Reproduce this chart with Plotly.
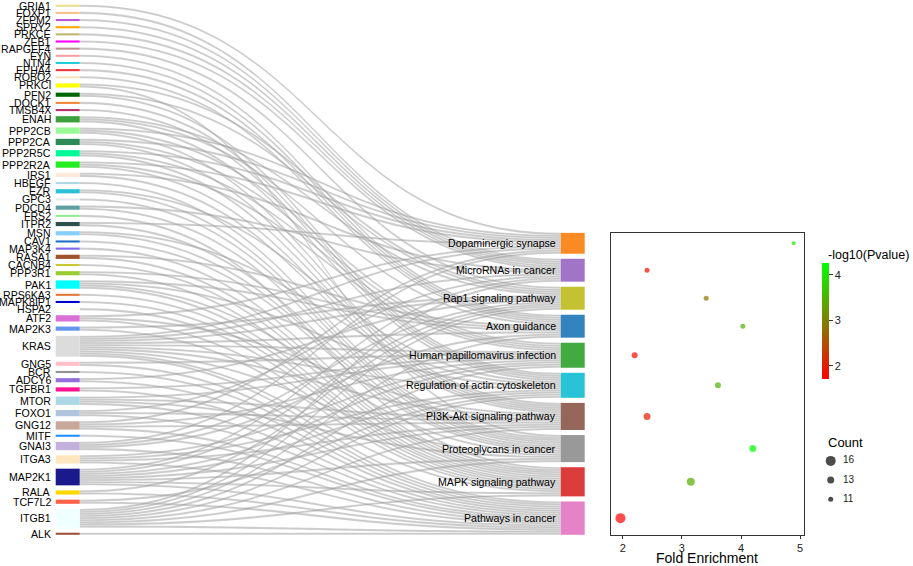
import plotly.graph_objects as go

FIG_W, FIG_H = 913, 566
FONT = "Liberation Sans, Arial, Helvetica, sans-serif"

# ---------------- data ----------------
pathways = ["Dopaminergic synapse", "MicroRNAs in cancer", "Rap1 signaling pathway",
            "Axon guidance", "Human papillomavirus infection",
            "Regulation of actin cytoskeleton", "PI3K-Akt signaling pathway",
            "Proteoglycans in cancer", "MAPK signaling pathway", "Pathways in cancer"]
pathway_codes = ["D", "Mi", "R", "A", "H", "G", "P", "Pr", "M", "C"]
fold_enrichment = [4.89, 2.41, 3.41, 4.03, 2.20, 3.61, 2.41, 4.20, 3.15, 1.96]
neg_log10_p = [4.02, 1.82, 2.90, 3.45, 1.76, 3.48, 1.97, 4.26, 3.42, 1.71]
pathway_colors = ["#F98A24", "#A274C8", "#C4C132", "#3283BE", "#41AA41",
                  "#28C3D7", "#96665A", "#999999", "#DC3C3C", "#E683C8"]

genes = ["GRIA1", "FOXP1", "ZFPM2", "SPRY2", "PRKCE", "ZEB1", "RAPGEF4", "FYN", "NTN4",
         "EPHA4", "ROBO2", "PRKCI", "PFN2", "DOCK1", "TMSB4X", "ENAH", "PPP2CB", "PPP2CA",
         "PPP2R5C", "PPP2R2A", "IRS1", "HBEGF", "EZR", "GPC3", "PDCD4", "FRS2", "ITPR2",
         "MSN", "CAV1", "MAP3K4", "RASA1", "CACNB4", "PPP3R1", "PAK1", "RPS6KA3",
         "MAPK8IP1", "HSPA2", "ATF2", "MAP2K3", "KRAS", "GNG5", "BCR", "ADCY6", "TGFBR1",
         "MTOR", "FOXO1", "GNG12", "MITF", "GNAI3", "ITGA3", "MAP2K1", "RALA", "TCF7L2",
         "ITGB1", "ALK"]
gene_colors = ["#E6E08C", "#F8C08A", "#BA55D3", "#FFA500", "#BDB76B", "#FF00FF", "#BC8F8F",
               "#F4A0A0", "#20CDD8", "#E8383A", "#F8E2BA", "#FFFF00", "#006400", "#F4873A",
               "#B8336A", "#3CA03C", "#98FB98", "#2E8B57", "#00FA9A", "#22EE22", "#FDEBD9",
               "#ADD8E6", "#2BC0D8", "#E6E6F0", "#5F9EA0", "#90EE90", "#2F4F4F", "#87CEFA",
               "#2070C8", "#7B68EE", "#A0522D", "#C8C832", "#9ACD32", "#00FFFF", "#E07838",
               "#0000CD", "#FFFFF0", "#DA70D6", "#6495ED", "#DCDCDC", "#FFC0CB", "#909090",
               "#9370DB", "#FF1493", "#ADD8E6", "#B0C4DE", "#C9A89C", "#1E90FF", "#C4B0DC",
               "#FFE6BE", "#1A1A8C", "#FFD700", "#FF6347", "#F0FFFF", "#A0523C"]
gene_pathways = [
    ["D"], ["Mi"], ["Mi"], ["Mi"], ["Mi"], ["Mi"], ["R"], ["A"], ["A"], ["A"], ["A"],
    ["R", "Pr"], ["R", "G"], ["G"], ["G"], ["R", "A", "G"],
    ["D", "H", "P"], ["D", "H", "P"], ["D", "H", "P"], ["D", "H", "P"],
    ["Mi", "P"], ["Pr"], ["G", "Pr"], ["Pr"], ["Mi", "Pr"], ["M"], ["D", "Pr"],
    ["G", "Pr"], ["Pr"], ["M"], ["A", "M"], ["M"], ["A", "M"], ["A", "G", "Pr", "M"],
    ["M"], ["M"], ["M"], ["D", "P", "M"], ["R", "M"],
    ["D", "Mi", "R", "A", "H", "G", "P", "Pr", "M", "C"],
    ["H", "C"], ["C"], ["R", "C"], ["H", "C"], ["H", "P", "Pr", "C"], ["Mi", "P", "C"],
    ["D", "H", "P", "C"], ["C"], ["D", "R", "A", "C"], ["H", "G", "P", "C"],
    ["Mi", "R", "H", "G", "P", "Pr", "M", "C"], ["R", "C"], ["G", "C"],
    ["Mi", "R", "A", "H", "G", "P", "Pr", "M", "C"], ["C"]]
count_breaks = [16, 13, 11]

# ---------------- layout geometry ----------------
dom_x = [55.7 / FIG_W, 584.7 / FIG_W]
dom_y = [1 - 534.8 / FIG_H, 1 - 4.7 / FIG_H]
PAD = 5.07
THICK = 24
W = (dom_x[1] - dom_x[0]) * FIG_W
H = (dom_y[1] - dom_y[0]) * FIG_H

n_g, n_p = len(genes), len(pathways)
total = sum(len(g) for g in gene_pathways)
ky = (H - (n_g - 1) * PAD) / total
counts = [sum(code in gp for gp in gene_pathways) for code in pathway_codes]

# gene node centres (px from sankey top)
gene_c = []
cur = 0.0
for gp in gene_pathways:
    h = len(gp) * ky
    gene_c.append(cur + h / 2)
    cur += h + PAD
# pathway node centres stacked from the bottom
path_c = [0.0] * n_p
cur = H
for i in range(n_p - 1, -1, -1):
    h = counts[i] * ky
    path_c[i] = cur - h / 2
    cur -= h + PAD
col_h = H - cur - PAD  # height of the pathway column

src, tgt = [], []
for gi, gp in enumerate(gene_pathways):
    for code in gp:
        src.append(gi)
        tgt.append(n_g + pathway_codes.index(code))

node_x = [THICK / 2 / W] * n_g + [1 - THICK / 2 / W] * n_p
node_y = [c / H for c in gene_c] + [c / H for c in path_c]

fig = go.Figure()
fig.add_trace(go.Sankey(
    domain=dict(x=dom_x, y=dom_y),
    arrangement="fixed",
    hoverinfo="none",
    node=dict(label=[""] * (n_g + n_p), color=gene_colors + pathway_colors,
              pad=PAD, thickness=THICK, line=dict(width=0), x=node_x, y=node_y),
    link=dict(source=src, target=tgt, value=[1] * len(src),
              color="rgba(150,150,150,0.5)", line=dict(width=0.3, color="rgba(255,255,255,0.6)")),
))

def dot_size(c):
    return 4.0 + (c - 10) * 1.0

fig.add_trace(go.Scatter(
    x=fold_enrichment, y=path_c, mode="markers", xaxis="x", yaxis="y",
    marker=dict(size=[dot_size(c) for c in counts], color=neg_log10_p,
                colorscale=[[0, "rgb(255,0,0)"], [1, "rgb(0,255,0)"]],
                cmin=min(neg_log10_p), cmax=max(neg_log10_p), line=dict(width=0),
                colorbar=dict(x=822.3 / FIG_W, xanchor="left", xpad=0,
                              y=1 - 321 / FIG_H, yanchor="middle", ypad=0,
                              len=116, lenmode="pixels", thickness=7, outlinewidth=0,
                              tickvals=[2, 3, 4], ticks="outside", ticklen=4,
                              tickcolor="#333", tickfont=dict(size=11, color="#222", family=FONT))),
    showlegend=False, hoverinfo="skip"))

# size legend
leg_labels = [str(c) for c in count_breaks]
fig.add_trace(go.Scatter(
    x=[0.15] * len(count_breaks), y=leg_labels, mode="markers", xaxis="x2", yaxis="y2",
    marker=dict(size=[dot_size(c) for c in count_breaks], color="black", line=dict(width=0)),
    showlegend=False, hoverinfo="skip"))
fig.add_trace(go.Scatter(
    x=[0.36] * len(count_breaks), y=leg_labels, mode="text", text=leg_labels,
    textposition="middle right", xaxis="x2", yaxis="y2",
    textfont=dict(size=10, color="#222", family=FONT), showlegend=False, hoverinfo="skip"))

annotations = []
for g, c in zip(genes, gene_c):
    annotations.append(dict(x=(dom_x[0] * FIG_W - 3.5) / FIG_W, y=dom_y[1] - c / FIG_H,
                            xref="paper", yref="paper", xanchor="right", yanchor="middle",
                            text=g, showarrow=False, borderpad=0,
                            font=dict(size=10.6, color="black", family=FONT)))
for p, c in zip(pathways, path_c):
    annotations.append(dict(x=(dom_x[1] * FIG_W - THICK - 4) / FIG_W, y=dom_y[1] - c / FIG_H,
                            xref="paper", yref="paper", xanchor="right", yanchor="middle",
                            text=p, showarrow=False, borderpad=0,
                            font=dict(size=10.6, color="black", family=FONT)))
annotations.append(dict(x=826 / FIG_W, y=1 - 255 / FIG_H, xref="paper", yref="paper",
                        xanchor="left", yanchor="middle", text="-log10(Pvalue)", showarrow=False,
                        font=dict(size=12.5, color="black", family=FONT)))
annotations.append(dict(x=826 / FIG_W, y=1 - 442 / FIG_H, xref="paper", yref="paper",
                        xanchor="left", yanchor="middle", text="Count", showarrow=False,
                        font=dict(size=13, color="black", family=FONT)))
annotations.append(dict(x=707 / FIG_W, y=1 - 558 / FIG_H, xref="paper", yref="paper",
                        xanchor="center", yanchor="middle", text="Fold Enrichment",
                        showarrow=False, font=dict(size=14, color="black", family=FONT)))

fig.update_layout(
    width=FIG_W, height=FIG_H, autosize=False,
    margin=dict(l=0, r=0, t=0, b=0),
    paper_bgcolor="white", plot_bgcolor="white",
    font=dict(family=FONT, size=11, color="black"),
    xaxis=dict(domain=[611 / FIG_W, 803.7 / FIG_W], range=[1.8, 5.06], tickvals=[2, 3, 4, 5],
               ticks="outside", ticklen=3, tickcolor="#333", showline=True, linecolor="#333",
               linewidth=1, mirror=True, showgrid=False, zeroline=False,
               tickfont=dict(size=11, color="#222", family=FONT)),
    yaxis=dict(domain=[dom_y[0], dom_y[0] + col_h / FIG_H], range=[H, H - col_h],
               showticklabels=False, ticks="", showline=True, linecolor="#333", linewidth=1,
               mirror=True, showgrid=False, zeroline=False),
    xaxis2=dict(domain=[822 / FIG_W, 880 / FIG_W], range=[0, 1], visible=False),
    yaxis2=dict(domain=[1 - 505 / FIG_H, 1 - 452 / FIG_H], type="category",
                categoryorder="array", categoryarray=leg_labels, autorange="reversed",
                visible=False),
    annotations=annotations,
    showlegend=False,
)

fig.write_html("out.html", config={"displayModeBar": False},
               post_script="document.body.style.margin='0';document.body.style.overflow='hidden';")
